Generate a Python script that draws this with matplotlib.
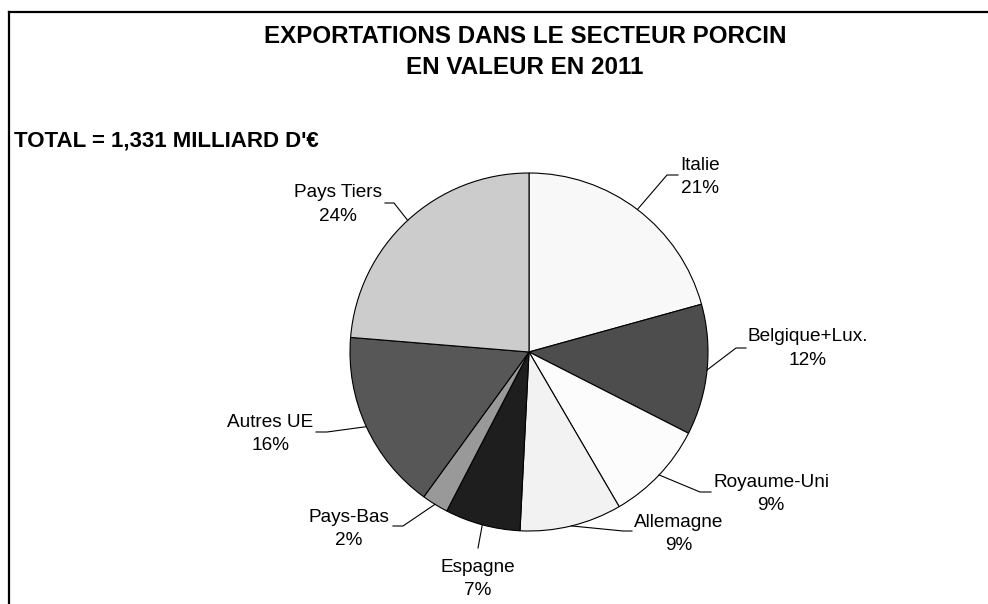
import matplotlib
matplotlib.use("Agg")
import matplotlib.pyplot as plt
from matplotlib.lines import Line2D
import numpy as np

# ---- data ----
categories = ["Italie", "Belgique+Lux.", "Royaume-Uni", "Allemagne",
              "Espagne", "Pays-Bas", "Autres UE", "Pays Tiers"]
values = [20.7, 11.8, 9.1, 9.2, 6.8, 2.4, 16.3, 23.7]
pct_labels = ["21%", "12%", "9%", "9%", "7%", "2%", "16%", "24%"]
colors = ["#f8f8f8", "#4d4d4d", "#fcfcfc", "#f2f2f2",
          "#1e1e1e", "#999999", "#575757", "#cccccc"]
title_lines = ["EXPORTATIONS DANS LE SECTEUR PORCIN", "EN VALEUR EN 2011"]
total_text = "TOTAL = 1,331 MILLIARD D'\u20ac"

plt.rcParams["font.family"] = ["Liberation Sans", "DejaVu Sans"]

W, H = 988, 604
fig = plt.figure(figsize=(W / 100, H / 100), dpi=100)
CX, CY, R = 529, 352, 179
ax = fig.add_axes([(CX - R) / W, (H - CY - R) / H, 2 * R / W, 2 * R / H])

wedges, _ = ax.pie(values, colors=colors, startangle=90, counterclock=False,
                   radius=1, wedgeprops=dict(edgecolor="black", linewidth=0.8),
                   frame=False)
ax.set_aspect("auto")
ax.set_xlim(-1, 1)
ax.set_ylim(-1, 1)
ax.axis("off")


def px2d(px, py):
    return ((px - CX) / R, (CY - py) / R)


# label layout (pixel positions): text centre x, baseline 1, baseline 2, elbow, end
layout = {
    "Italie": (700, 170, 193, (667, 175), (678, 175)),
    "Belgique+Lux.": (808, 341, 365, (736, 348), (746, 348)),
    "Royaume-Uni": (771, 487, 510, (700, 492), (711, 492)),
    "Allemagne": (679, 527, 550, (623, 531), (632, 531)),
    "Espagne": (478, 572, 595, (478, 548), (478, 548)),
    "Pays-Bas": (349, 522, 545, (403, 526), (393, 526)),
    "Autres UE": (270, 427, 450, (327, 432), (316, 432)),
    "Pays Tiers": (338, 197, 221, (394, 203), (385, 203)),
}

LFS = 13.7
for w, name, pct in zip(wedges, categories, pct_labels):
    mid = np.deg2rad((w.theta1 + w.theta2) / 2)
    ex, ey = np.cos(mid), np.sin(mid)
    tx, b1, b2, elbow, end = layout[name]
    el = px2d(*elbow)
    en = px2d(*end)
    ax.plot([ex, el[0], en[0]], [ey, el[1], en[1]], color="black",
            lw=0.8, clip_on=False)
    fig.text(tx / W, 1 - b1 / H, name, ha="center", va="baseline", fontsize=LFS)
    fig.text(tx / W, 1 - b2 / H, pct, ha="center", va="baseline", fontsize=LFS)

# titles
fig.text(525 / W, 1 - 43 / H, title_lines[0], ha="center", va="baseline",
         fontsize=17.4, fontweight="bold")
fig.text(525 / W, 1 - 74 / H, title_lines[1], ha="center", va="baseline",
         fontsize=17.4, fontweight="bold")
fig.text(14 / W, 1 - 146 / H, total_text, ha="left", va="baseline",
         fontsize=16.0, fontweight="bold")

# frame (top and left borders)
fig.add_artist(Line2D([8.5 / W, 1.0], [1 - 12 / H, 1 - 12 / H],
                      color="black", lw=1.6))
fig.add_artist(Line2D([8.5 / W, 8.5 / W], [1 - 12 / H, 0.0],
                      color="black", lw=1.6))

fig.savefig("out.png", dpi=100)
